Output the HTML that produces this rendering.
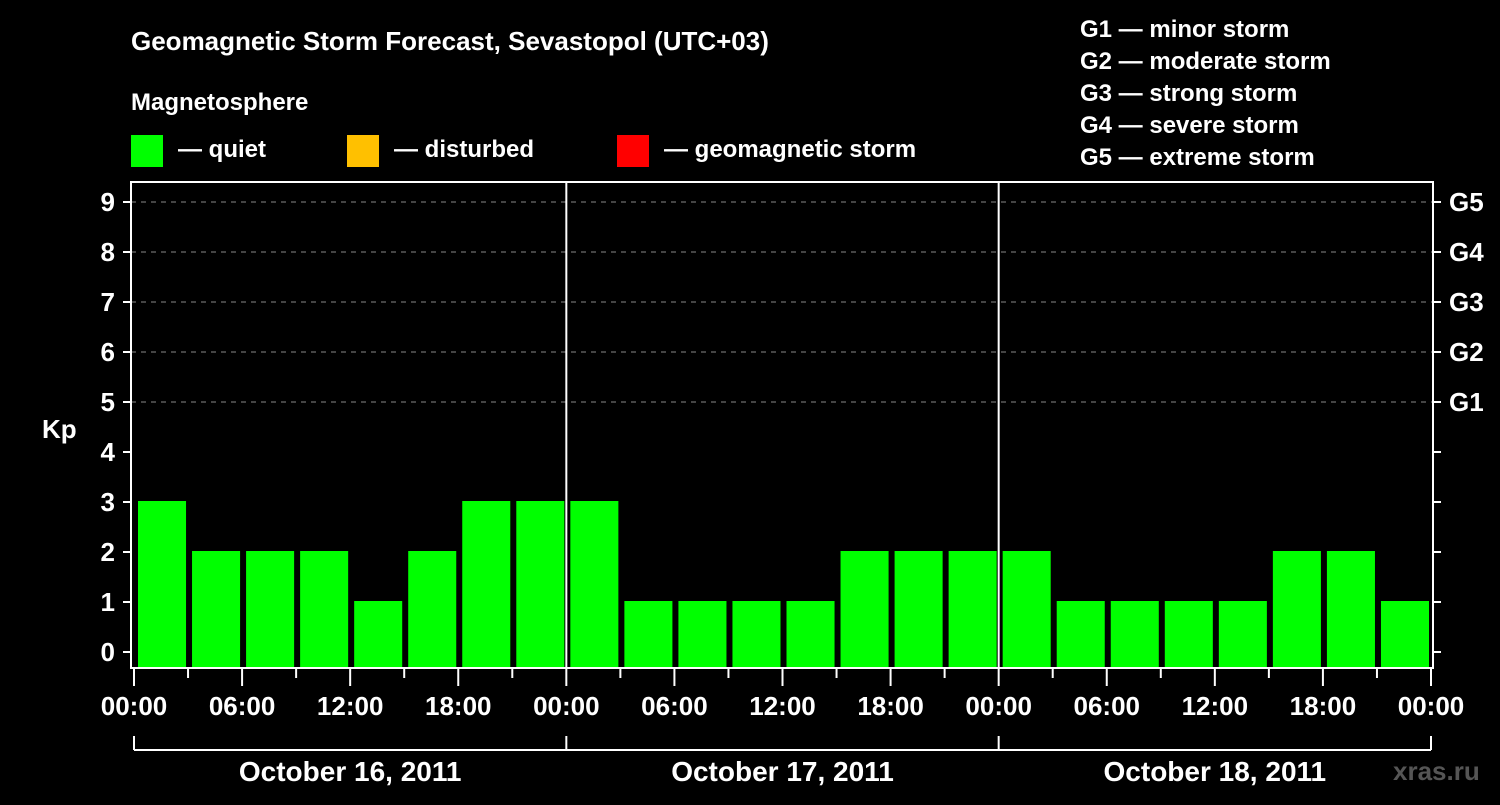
<!DOCTYPE html>
<html><head><meta charset="utf-8"><style>
html,body{margin:0;padding:0;background:#000;}
svg text{font-family:"Liberation Sans",sans-serif;font-weight:bold;fill:#fff;}
</style></head><body>
<svg width="1500" height="800" viewBox="0 0 1500 800">
<rect x="0" y="0" width="1500" height="800" fill="#000"/>
<text x="131" y="50" font-size="26">Geomagnetic Storm Forecast, Sevastopol (UTC+03)</text>
<text x="131" y="110" font-size="24">Magnetosphere</text>
<g><rect x="131" y="135" width="32" height="32" fill="#00ff00"/><text x="178" y="157" font-size="24">— quiet</text></g>
<g><rect x="347" y="135" width="32" height="32" fill="#ffc000"/><text x="394" y="157" font-size="24">— disturbed</text></g>
<g><rect x="617" y="135" width="32" height="32" fill="#ff0000"/><text x="664" y="157" font-size="24">— geomagnetic storm</text></g>
<g font-size="24">
<text x="1080" y="37">G1 — minor storm</text>
<text x="1080" y="69">G2 — moderate storm</text>
<text x="1080" y="101">G3 — strong storm</text>
<text x="1080" y="133">G4 — severe storm</text>
<text x="1080" y="165">G5 — extreme storm</text>
</g>
<text x="42" y="438" font-size="26">Kp</text>
<g id="plot"></g>
<text x="1393" y="780" font-size="26" fill="#555" style="fill:#555">xras.ru</text>
</svg>
<script>
const kpValues = [3,2,2,2,1,2,3,3, 3,1,1,1,1,2,2,2, 2,1,1,1,1,2,2,1];
const dayLabels = ["October 16, 2011","October 17, 2011","October 18, 2011"];
const hourLabels = ["00:00","06:00","12:00","18:00"];
const yTicks = [0,1,2,3,4,5,6,7,8,9];
const gLabels = ["G1","G2","G3","G4","G5"];

const NS="http://www.w3.org/2000/svg";
const L=134, R=1431, T=182, B=668;
const y=v=>652-50*v;
const x=h=>L+(R-L)*h/72;
const g=document.getElementById('plot');
function mk(t,a,p){const e=document.createElementNS(NS,t);for(const k in a)e.setAttribute(k,a[k]);(p||g).appendChild(e);return e;}

// grid dashed 5..9
yTicks.forEach(v=>{
  if(v>=5){const l=mk('line',{x1:131,x2:1433,y1:y(v),y2:y(v),stroke:'#888','stroke-width':1,'stroke-dasharray':'5,5'});
  
  }
});
// bars
kpValues.forEach((v,i)=>{
  const col=v>=5?'#ff0000':(v>=4?'#ffc000':'#00ff00');
  const x0=x(i*3)+4, w=x(3)-x(0)-6;
  const r=mk('rect',{x:x0,y:y(v)-1,width:w,height:B-1-(y(v)-1),fill:col});
  
  
});
// day separators
for(let d=1;d<3;d++){const l=mk('line',{x1:x(d*24),x2:x(d*24),y1:T,y2:B,stroke:'#fff','stroke-width':2});

}
// frame
const f=mk('rect',{x:131,y:T,width:1302,height:B-T,fill:'none',stroke:'#fff','stroke-width':2});


// y ticks
yTicks.forEach(v=>{
  mk('line',{x1:123,x2:131,y1:y(v),y2:y(v),stroke:'#fff','stroke-width':2});
  mk('line',{x1:1433,x2:1441,y1:y(v),y2:y(v),stroke:'#fff','stroke-width':2});
  const t=mk('text',{x:115,y:y(v)+9,'font-size':26,'text-anchor':'end'});t.textContent=v;
  
  
});
gLabels.forEach((s,i)=>{const t=mk('text',{x:1449,y:y(5+i)+9,'font-size':26});t.textContent=s;

});
// x ticks
for(let h=0;h<=72;h+=3){const major=h%6===0;
  mk('line',{x1:x(h),x2:x(h),y1:B,y2:major?686:678,stroke:'#fff','stroke-width':2});
  if(major){const t=mk('text',{x:x(h),y:715,'font-size':26,'text-anchor':'middle'});t.textContent=hourLabels[(h/6)%4];
  
  }
}
// day bracket
mk('line',{x1:x(0),x2:x(72),y1:750,y2:750,stroke:'#fff','stroke-width':2});
for(let d=0;d<=3;d++)mk('line',{x1:x(d*24),x2:x(d*24),y1:736,y2:750,stroke:'#fff','stroke-width':2});
dayLabels.forEach((s,d)=>{const t=mk('text',{x:x(d*24+12),y:781,'font-size':28,'text-anchor':'middle'});t.textContent=s;

});
</script>
</body></html>
